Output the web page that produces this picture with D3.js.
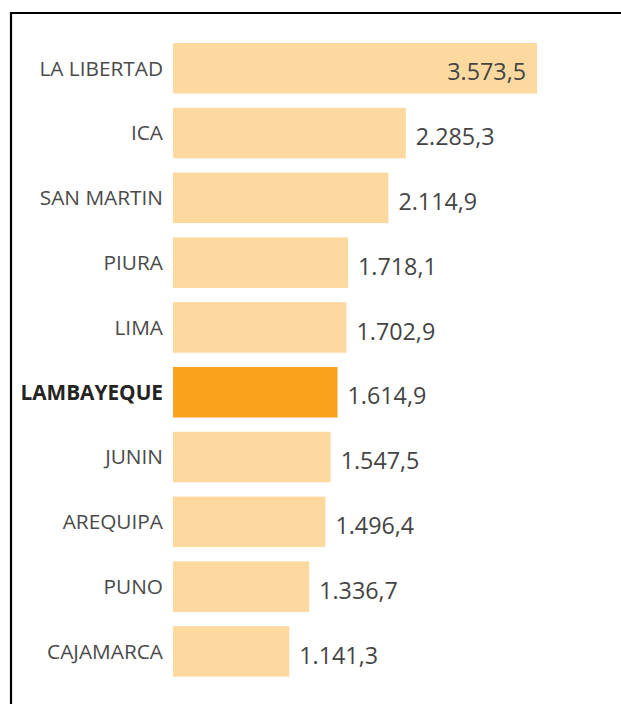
<!DOCTYPE html>
<html>
<head>
<meta charset="utf-8">
<script src="https://cdn.jsdelivr.net/npm/d3@7"></script>
<style>
  body { margin: 0; background: #fff; }
  svg { display: block; font-family: "Open Sans", sans-serif; }
</style>
</head>
<body>
<script>
const regions = ["LA LIBERTAD", "ICA", "SAN MARTIN", "PIURA", "LIMA", "LAMBAYEQUE", "JUNIN", "AREQUIPA", "PUNO", "CAJAMARCA"];
const values = [3573.5, 2285.3, 2114.9, 1718.1, 1702.9, 1614.9, 1547.5, 1496.4, 1336.7, 1141.3];
const highlight = "LAMBAYEQUE";

const width = 621,
  height = 704;

const data = regions.map((r, i) => ({ region: r, value: values[i] }));

// es-PE style: thousands ".", decimals ","
const locale = d3.formatLocale({ decimal: ",", thousands: ".", grouping: [3], currency: ["", ""] });
const fmt = locale.format(",.1f");

const x = d3.scaleLinear()
  .domain([0, d3.max(values)])
  .range([173, 537]);

const y = d3.scaleBand()
  .domain(regions)
  .range([43, 676.7])
  .paddingInner(0.22)
  .paddingOuter(0);

const svg = d3.select("body")
  .append("svg")
    .attr("width", width)
    .attr("height", height);

// frame (only left and top edges are visible in the crop)
svg.append("path")
  .attr("d", `M11,${height} V13 H${width}`)
  .attr("fill", "none")
  .attr("stroke", "#000")
  .attr("stroke-width", 2.2);

const row = svg.selectAll("g.row")
  .data(data)
  .enter()
  .append("g")
    .attr("class", "row");

row.append("rect")
  .attr("x", x(0))
  .attr("y", d => y(d.region))
  .attr("width", d => x(d.value) - x(0))
  .attr("height", y.bandwidth())
  .attr("fill", d => d.region === highlight ? "#FAA21B" : "#FDD9A0");

row.append("text")
  .attr("x", 163)
  .attr("y", d => y(d.region) + y.bandwidth() / 2)
  .attr("dy", "0.35em")
  .attr("text-anchor", "end")
  .attr("font-size", 20.8)
  .attr("font-weight", d => d.region === highlight ? 700 : 400)
  .attr("fill", d => d.region === highlight ? "#252423" : "#4a4a4a")
  .text(d => d.region);

// value labels: inside the bar when it is wide enough, otherwise after it
const inside = d => x(d.value) > 500;

row.append("text")
  .attr("x", d => inside(d) ? x(d.value) - 11 : x(d.value) + 10)
  .attr("y", d => y(d.region) + y.bandwidth() / 2 + 4)
  .attr("dy", "0.35em")
  .attr("text-anchor", d => inside(d) ? "end" : "start")
  .attr("font-size", 23.3)
  .attr("fill", "#444")
  .text(d => fmt(d.value));
</script>
</body>
</html>
